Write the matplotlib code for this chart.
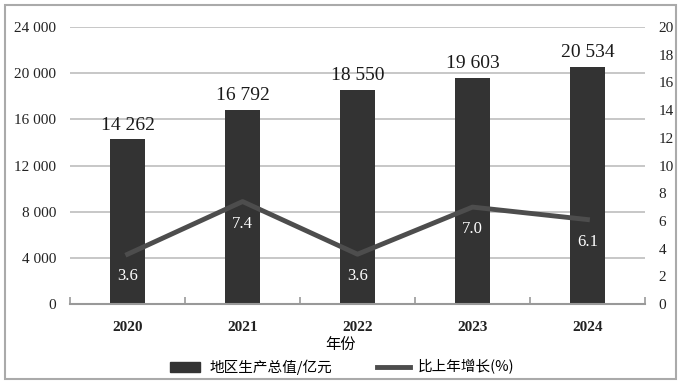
import matplotlib.pyplot as plt
import numpy as np
from matplotlib.patches import Rectangle

years = ["2020", "2021", "2022", "2023", "2024"]
gdp = [14262, 16792, 18550, 19603, 20534]
gdp_labels = ["14 262", "16 792", "18 550", "19 603", "20 534"]
growth = [3.6, 7.4, 3.6, 7.0, 6.1]
left_ticks = [0, 4000, 8000, 12000, 16000, 20000, 24000]
left_ticklabels = ["0", "4 000", "8 000", "12 000", "16 000", "20 000", "24 000"]
right_ticks = list(range(0, 21, 2))

serif = ["Liberation Serif", "DejaVu Serif"]
cjk = ["Noto Sans CJK SC", "DejaVu Sans"]
plt.rcParams['font.family'] = serif

fig = plt.figure(figsize=(6.81, 3.84), dpi=100)
ax = fig.add_axes([0.103, 0.208, 0.844, 0.722])
ax2 = ax.twinx()

x = np.arange(len(years))
bars = ax.bar(x, gdp, width=0.31, color="#333333", zorder=2)
ax.set_ylim(0, 24000)
ax.set_xlim(-0.5, 4.5)
ax.set_yticks(left_ticks)
ax.set_yticklabels(left_ticklabels, fontsize=11, color="#222222")
ax.yaxis.grid(True, color="#bdbdbd", linewidth=1.2, zorder=0)
ax.set_axisbelow(True)
ax.set_xticks(x)
ax.set_xticklabels(years, fontsize=11, fontweight="bold", color="#222222")
ax.set_xticks(np.arange(-0.5, 5, 1), minor=True)
ax.tick_params(axis="x", which="major", length=0, pad=12)
ax.tick_params(axis="x", which="minor", length=5, color="#999999", width=1.2, direction="in")
ax.tick_params(axis="y", length=0, pad=10)
for s in ["top", "left", "right"]:
    ax.spines[s].set_visible(False)
ax.spines["bottom"].set_color("#999999")
ax.spines["bottom"].set_linewidth(1.5)

for xi, v, lab in zip(x, gdp, gdp_labels):
    ax.text(xi, v + 500, lab, ha="center", va="bottom", fontsize=14, color="#1a1a1a")

ax2.plot(x, growth, color="#4d4d4d", linewidth=3.5, zorder=3)
ax2.set_ylim(0, 20)
ax2.set_yticks(right_ticks)
ax2.set_yticklabels([str(t) for t in right_ticks], fontsize=11, color="#222222")
ax2.tick_params(axis="y", length=0, pad=10)
for s in ["top", "left", "right", "bottom"]:
    ax2.spines[s].set_visible(False)
for xi, g in zip(x, growth):
    ax2.text(xi, g - 1.6, f"{g:.1f}", ha="center", va="center", fontsize=12, color="white")

fig.text(0.5, 0.103, "年份", ha="center", va="center", fontsize=11, family=cjk)

# legend
fig.patches.append(Rectangle((0.25, 0.032), 0.044, 0.026, transform=fig.transFigure,
                             color="#333333"))
fig.text(0.307, 0.044, "地区生产总值/亿元", ha="left", va="center", fontsize=10.5, family=cjk)
fig.lines.append(plt.Line2D([0.553, 0.602], [0.044, 0.044], transform=fig.transFigure,
                            color="#4d4d4d", linewidth=3.5))
fig.text(0.614, 0.044, "比上年增长(%)", ha="left", va="center", fontsize=10.5, family=cjk)

fig.patches.append(Rectangle((0.008, 0.012), 0.984, 0.975, transform=fig.transFigure,
                             fill=False, edgecolor="#aaaaaa", linewidth=1.5))

fig.savefig("out.png", dpi=100)
